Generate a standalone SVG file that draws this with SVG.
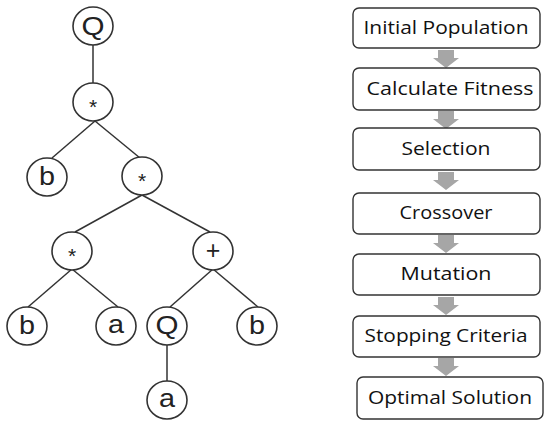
<svg xmlns="http://www.w3.org/2000/svg" width="550" height="425" viewBox="0 0 550 425">
<defs>
<style>
.edge{stroke:#333;stroke-width:1.5;fill:none}
.node ellipse{fill:#fff;stroke:#333;stroke-width:1.6}
.node text{font-family:"Liberation Sans",Arial,sans-serif;font-size:25px;fill:#222;text-anchor:middle}
.node text.op{font-size:21px}
.box rect{fill:#fff;stroke:#333;stroke-width:1.4}
.box text{font-family:"Open Sans","Liberation Sans",sans-serif;font-size:17.5px;fill:#111;text-anchor:middle}
.arrow{fill:#a6a6a6}
</style>
<path id="arr" class="arrow" d="M-8 0 H8 V8 H13 L0 18 L-13 8 H-8 Z"/>
</defs>
<rect width="550" height="425" fill="#fff"/>
<g id="connectors">
<line class="edge" x1="93" y1="45" x2="93" y2="83"/>
<line class="edge" x1="95" y1="121" x2="52" y2="158"/>
<line class="edge" x1="95" y1="121" x2="140" y2="158"/>
<line class="edge" x1="142" y1="195" x2="75" y2="232"/>
<line class="edge" x1="142" y1="195" x2="210" y2="232"/>
<line class="edge" x1="72" y1="269" x2="28" y2="307"/>
<line class="edge" x1="72" y1="269" x2="118" y2="307"/>
<line class="edge" x1="213" y1="269" x2="170" y2="307"/>
<line class="edge" x1="213" y1="269" x2="258" y2="307"/>
<line class="edge" x1="167" y1="345" x2="167" y2="381"/>
<use href="#arr" x="446" y="50"/>
<use href="#arr" x="446" y="111"/>
<use href="#arr" x="446" y="172"/>
<use href="#arr" x="446" y="235"/>
<use href="#arr" x="446" y="297"/>
<use href="#arr" x="446" y="358"/>
</g>
<g id="n1" class="node"><ellipse cx="93" cy="26" rx="20" ry="19"/><text x="93" y="35" textLength="23" lengthAdjust="spacingAndGlyphs">Q</text></g>
<g id="n2" class="node"><ellipse cx="93" cy="102" rx="20" ry="19"/><text class="op" x="93" y="114">*</text></g>
<g id="n3" class="node"><ellipse cx="47" cy="177" rx="20" ry="19"/><text x="47" y="185" textLength="16" lengthAdjust="spacingAndGlyphs">b</text></g>
<g id="n4" class="node"><ellipse cx="142" cy="176" rx="20" ry="19"/><text class="op" x="142" y="188">*</text></g>
<g id="n5" class="node"><ellipse cx="72" cy="251" rx="20" ry="19"/><text class="op" x="72" y="263">*</text></g>
<g id="n6" class="node"><ellipse cx="213" cy="251" rx="20" ry="19"/><text x="213" y="259">+</text></g>
<g id="n7" class="node"><ellipse cx="27" cy="326" rx="20" ry="19"/><text x="27" y="334" textLength="16" lengthAdjust="spacingAndGlyphs">b</text></g>
<g id="n8" class="node"><ellipse cx="116" cy="326" rx="20" ry="19"/><text x="116" y="333" textLength="16" lengthAdjust="spacingAndGlyphs">a</text></g>
<g id="n9" class="node"><ellipse cx="167" cy="326" rx="20" ry="19"/><text x="167" y="334" textLength="23" lengthAdjust="spacingAndGlyphs">Q</text></g>
<g id="n10" class="node"><ellipse cx="257" cy="326" rx="20" ry="19"/><text x="257" y="334" textLength="16" lengthAdjust="spacingAndGlyphs">b</text></g>
<g id="n11" class="node"><ellipse cx="167" cy="400" rx="20" ry="19"/><text x="167" y="407" textLength="16" lengthAdjust="spacingAndGlyphs">a</text></g>
<g id="b1" class="box"><rect x="353" y="8" width="187" height="40" rx="6"/><text x="446" y="34" textLength="165" lengthAdjust="spacingAndGlyphs">Initial Population</text></g>
<g id="b2" class="box"><rect x="353" y="68" width="187" height="42" rx="6"/><text x="450" y="95" textLength="167" lengthAdjust="spacingAndGlyphs">Calculate Fitness</text></g>
<g id="b3" class="box"><rect x="353" y="128" width="187" height="42" rx="6"/><text x="446" y="155" textLength="89" lengthAdjust="spacingAndGlyphs">Selection</text></g>
<g id="b4" class="box"><rect x="353" y="193" width="187" height="41" rx="6"/><text x="446" y="219" textLength="93" lengthAdjust="spacingAndGlyphs">Crossover</text></g>
<g id="b5" class="box"><rect x="353" y="254" width="187" height="41" rx="6"/><text x="446" y="280" textLength="91" lengthAdjust="spacingAndGlyphs">Mutation</text></g>
<g id="b6" class="box"><rect x="353" y="316" width="187" height="41" rx="6"/><text x="446" y="342" textLength="163" lengthAdjust="spacingAndGlyphs">Stopping Criteria</text></g>
<g id="b7" class="box"><rect x="357" y="377" width="186" height="42" rx="6"/><text x="450" y="404" textLength="164" lengthAdjust="spacingAndGlyphs">Optimal Solution</text></g>
</svg>
